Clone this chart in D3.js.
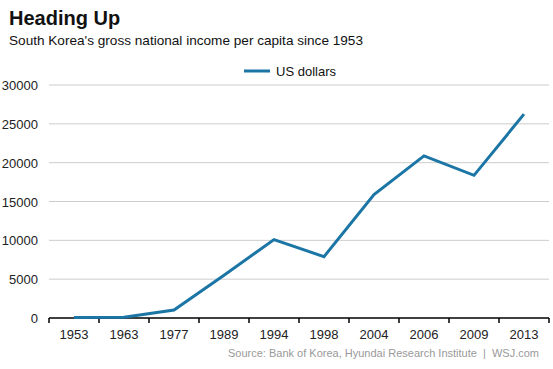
<!DOCTYPE html>
<html>
<head>
<meta charset="utf-8">
<script src="https://cdn.jsdelivr.net/npm/d3@7"></script>
<style>
  body { margin: 0; background: #fff; }
  svg { font-family: "Liberation Sans", Arial, sans-serif; }
</style>
</head>
<body>
<svg id="chart" width="553" height="369"></svg>
<script>
var years = ["1953", "1963", "1977", "1989", "1994", "1998", "2004", "2006", "2009", "2013"];
var usDollars = [67, 100, 1030, 5500, 10100, 7900, 15900, 20870, 18370, 26250];
var yTicks = [0, 5000, 10000, 15000, 20000, 25000, 30000];

var svg = d3.select("#chart");
var plotLeft = 49, plotRight = 549, plotTop = 85, plotBottom = 318;

var x = d3.scaleBand().domain(years).range([plotLeft, plotRight]);
var y = d3.scaleLinear().domain([0, 30000]).range([plotBottom, plotTop]);

// title
svg.append("text").attr("x", 9).attr("y", 25)
  .style("font-size", "20px").style("font-weight", "bold").attr("fill", "#111")
  .text("Heading Up");
svg.append("text").attr("x", 9).attr("y", 45)
  .style("font-size", "13.6px").attr("fill", "#111")
  .text("South Korea's gross national income per capita since 1953");

// legend
svg.append("line").attr("x1", 244).attr("x2", 270).attr("y1", 71).attr("y2", 71)
  .attr("stroke", "#1b75a5").attr("stroke-width", 3);
svg.append("text").attr("x", 276).attr("y", 76)
  .style("font-size", "13px").attr("fill", "#111").text("US dollars");

// grid
svg.append("g").selectAll("line").data(yTicks.filter(function(d) { return d > 0; }))
  .enter().append("line")
  .attr("x1", plotLeft).attr("x2", plotRight)
  .attr("y1", function(d) { return y(d); }).attr("y2", function(d) { return y(d); })
  .attr("stroke", "#cccccc").attr("stroke-width", 1);

// y labels
svg.append("g").selectAll("text").data(yTicks).enter().append("text")
  .attr("x", 38).attr("y", function(d) { return y(d) + 5; })
  .attr("text-anchor", "end").style("font-size", "13px").attr("fill", "#222")
  .text(function(d) { return d; });

// x axis
var xAxis = svg.append("g").attr("transform", "translate(0," + plotBottom + ")");
xAxis.append("line").attr("x1", plotLeft).attr("x2", plotRight).attr("stroke", "#000").attr("stroke-width", 1.5);
var tickPos = years.map(function(d) { return x(d); }).concat([plotRight]);
xAxis.selectAll(".tk").data(tickPos).enter().append("line")
  .attr("x1", function(d) { return d; }).attr("x2", function(d) { return d; })
  .attr("y1", 0).attr("y2", 5).attr("stroke", "#000").attr("stroke-width", 1.5);
xAxis.selectAll("text").data(years).enter().append("text")
  .attr("x", function(d) { return x(d) + x.bandwidth() / 2; }).attr("y", 21)
  .attr("text-anchor", "middle").style("font-size", "13px").attr("fill", "#222")
  .text(function(d) { return d; });

// line
var line = d3.line()
  .x(function(d, i) { return x(years[i]) + x.bandwidth() / 2; })
  .y(function(d) { return y(d); });
svg.append("path").datum(usDollars).attr("d", line)
  .attr("fill", "none").attr("stroke", "#1b75a5").attr("stroke-width", 3)
  .attr("stroke-linejoin", "miter");

// source
svg.append("text").attr("x", 539).attr("y", 357).attr("text-anchor", "end")
  .style("font-size", "11px").style("white-space", "pre").attr("fill", "#999")
  .text("Source: Bank of Korea, Hyundai Research Institute  |  WSJ.com");
</script>
</body>
</html>
